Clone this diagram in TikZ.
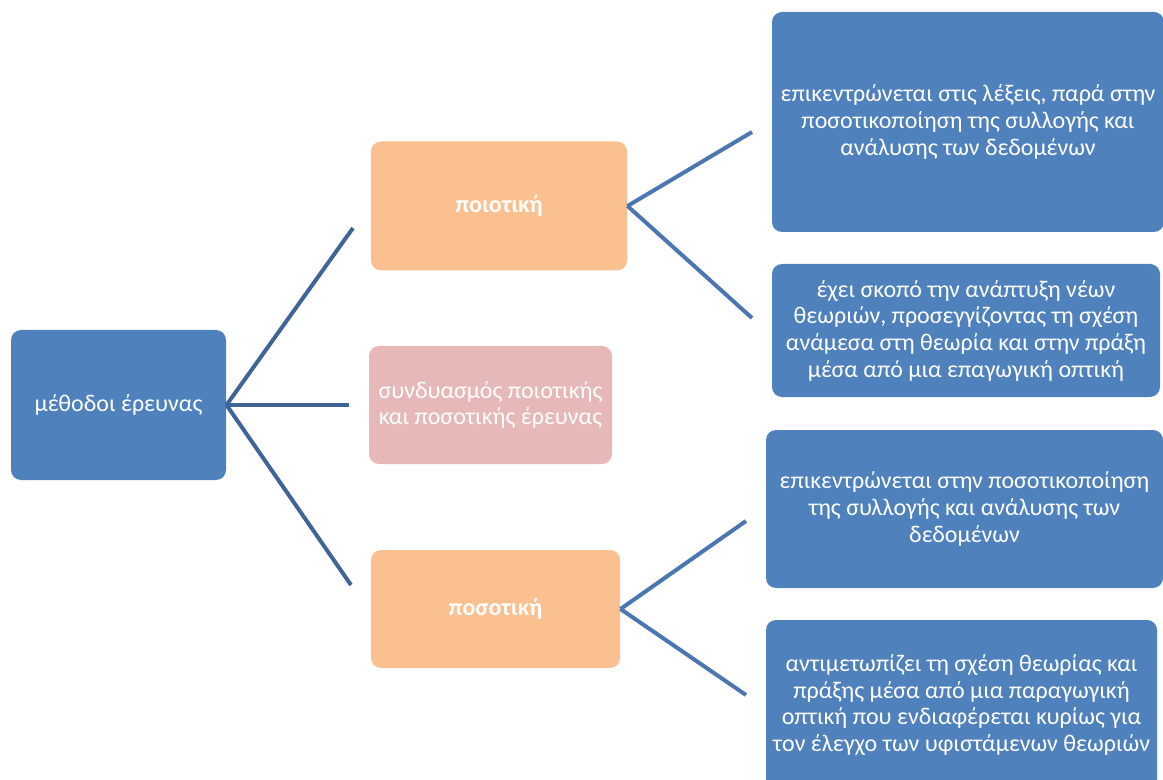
\documentclass[tikz,border=0pt]{standalone}
\usepackage{fontspec}
\setmainfont{Carlito}

\definecolor{boxblue}{RGB}{79,129,189}
\definecolor{boxorange}{RGB}{250,192,144}
\definecolor{boxpink}{RGB}{230,185,184}
\definecolor{linkdark}{RGB}{63,101,152}
\definecolor{linkblue}{RGB}{74,119,178}

\tikzset{every picture/.style={line width=0.75pt}}
\tikzset{
  box/.style={rounded corners=7.5pt, text=white, align=center, inner sep=0pt,
    font=\fontsize{18}{20}\selectfont},
  bluebox/.style={box, fill=boxblue},
  orangebox/.style={box, fill=boxorange, font=\fontsize{18}{20}\selectfont\bfseries},
  pinkbox/.style={box, fill=boxpink},
  rootlink/.style={draw=linkdark, line width=3pt},
  leaflink/.style={draw=linkblue, line width=3pt}
}

\begin{document}
\begin{tikzpicture}[x=0.75pt,y=0.75pt,yscale=-1,xscale=1]
\useasboundingbox (0,0) rectangle (1163,780);

% root
\node [bluebox, minimum width=161.25pt, minimum height=112.5pt] (root) at (118.5,405) {μέθοδοι έρευνας};

% middle level
\node [orangebox, minimum width=192pt, minimum height=96.75pt] (qual) at (499,206) {ποιοτική};
\node [pinkbox, minimum width=182.25pt, minimum height=88.5pt] (mix) at (490.5,405) {συνδυασμός ποιοτικής\\και ποσοτικής έρευνας};
\node [orangebox, minimum width=186.75pt, minimum height=88.5pt] (quant) at (495.5,609) {ποσοτική};

% right level
\node [bluebox, minimum width=294pt, minimum height=165pt] (qualA) at (968,122) {επικεντρώνεται στις λέξεις, παρά στην\\ποσοτικοποίηση της συλλογής και\\ανάλυσης των δεδομένων};
\node [bluebox, minimum width=291pt, minimum height=99.75pt] (qualB) at (966,330.5) {έχει σκοπό την ανάπτυξη νέων\\θεωριών, προσεγγίζοντας τη σχέση\\ανάμεσα στη θεωρία και στην πράξη\\μέσα από μια επαγωγική οπτική};
\node [bluebox, minimum width=297.75pt, minimum height=118.5pt] (quantA) at (964.5,509) {επικεντρώνεται στην ποσοτικοποίηση\\της συλλογής και ανάλυσης των\\δεδομένων};
\node [bluebox, minimum width=293.25pt, minimum height=127.5pt] (quantB) at (961.5,705) {αντιμετωπίζει τη σχέση θεωρίας και\\πράξης μέσα από μια παραγωγική\\οπτική που ενδιαφέρεται κυρίως για\\τον έλεγχο των υφιστάμενων θεωριών};

% free ends of the connectors
\coordinate (toQual) at (353,228);
\coordinate (toMix) at (349,405);
\coordinate (toQuant) at (351,585);
\coordinate (toQualA) at (752,132);
\coordinate (toQualB) at (752,318);
\coordinate (toQuantA) at (746,521);
\coordinate (toQuantB) at (746,695);

% connectors
\draw [rootlink] (root.east) -- (toQual);
\draw [rootlink] (root.east) -- (toMix);
\draw [rootlink] (root.east) -- (toQuant);
\draw [leaflink] (qual.east) -- (toQualA);
\draw [leaflink] (qual.east) -- (toQualB);
\draw [leaflink] (quant.east) -- (toQuantA);
\draw [leaflink] (quant.east) -- (toQuantB);

\end{tikzpicture}
\end{document}
